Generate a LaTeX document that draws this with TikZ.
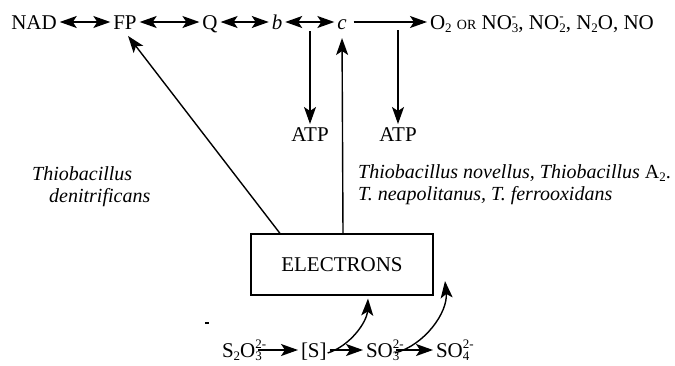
\documentclass[tikz,border=0pt]{standalone}
\usepackage{fontspec}
\setmainfont{Liberation Serif}
\usetikzlibrary{arrows.meta}
\newcommand\chm[2]{{\fontsize{13}{13}\selectfont\setbox0=\hbox{#1}\setbox2=\hbox{#2}%
\ifdim\wd0>\wd2 \dimen0=\wd0 \else\dimen0=\wd2 \fi
\rlap{\raise 8.5pt\box2}\rlap{\lower 3.5pt\box0}\hskip\dimen0}}
\newcommand\sbs[1]{{\fontsize{13}{13}\selectfont\lower 3.5pt\hbox{#1}}}
\begin{document}
\begin{tikzpicture}[x=1pt,y=-1pt,
  lbl/.style={inner sep=0pt, outer sep=3pt, text height=14pt, text depth=0pt, font=\fontsize{21}{24}\selectfont},
  ital/.style={inner sep=0pt, font=\fontsize{20}{24}\selectfont\itshape},
  arr/.style={-{Stealth[length=17pt,width=12pt,inset=4pt]}, line width=1.4pt},
  darr/.style={{Stealth[length=17pt,width=12pt,inset=4pt]}-{Stealth[length=17pt,width=12pt,inset=4pt]}, line width=1.4pt}]
\useasboundingbox (0,0) rectangle (675,365);
% top row
\node[lbl, anchor=base] (nad) at (34,29) {NAD};
\node[lbl, anchor=base] (fp) at (125,29) {FP};
\node[lbl, anchor=base] (q) at (210,29) {Q};
\node[lbl, anchor=base] (b) at (277,29) {\itshape b};
\node[lbl, anchor=base] (c) at (342,29) {\itshape c};
\node[lbl, anchor=base west] (acc) at (427,29) {O\sbs{2} {\fontsize{14}{14}\selectfont OR} NO\chm{3}{-}, NO\chm{2}{-}, N\sbs{2}O, NO};
\draw[darr] (nad) -- (fp);
\draw[darr] (fp) -- (q);
\draw[darr] (q) -- (b);
\draw[darr] (b) -- (c);
\draw[arr] ([xshift=4pt]c.east) -- (acc.west);
% ATP branches
\coordinate (j1) at (310,31);
\coordinate (j2) at (398,30);
\node[lbl, anchor=base] (atp1) at (310,141) {ATP};
\node[lbl, anchor=base] (atp2) at (398,141) {ATP};
\draw[arr] (j1) -- (atp1.north);
\draw[arr] (j2) -- (atp2.north);
% electrons box
\node[draw, line width=1.2pt, minimum width=182pt, minimum height=61pt, inner sep=0pt,
      font=\fontsize{21}{24}\selectfont] (el) at (342,264.5) {ELECTRONS};
\draw[arr, shorten >=6pt] ([xshift=1pt]el.north) -- (c.south);
\draw[arr, shorten >=5pt] ([xshift=-62pt]el.north) -- (fp.south);
% organism labels
\node[ital, anchor=base west] (td1) at (32,180) {Thiobacillus};
\node[ital, anchor=base west] (td2) at (49,202) {denitrificans};
\node[ital, anchor=base west] (tn1) at (358,178) {Thiobacillus novellus, Thiobacillus {\upshape A\sbs{2}.}};
\node[ital, anchor=base west] (tn2) at (358,200) {T. neapolitanus, T. ferrooxidans};
% bottom row
\node[lbl, anchor=base west] (s2o3) at (219,357) {S\sbs{2}O\chm{3}{2-}};
\node[lbl, anchor=base west] (s) at (298,357) {[S]};
\node[lbl, anchor=base west] (so3) at (363,357) {SO\chm{3}{2-}};
\node[lbl, anchor=base west] (so4) at (433,357) {SO\chm{4}{2-}};
\draw[arr] (s2o3) -- (s);
\draw[arr] (s) -- (so3);
\draw[arr] (so3) -- (so4);
\coordinate (t2) at (445,281);
\draw[arr] ([xshift=-2pt,yshift=-3pt]s.east) .. controls (350,346) and (367,322) .. ([xshift=26pt,yshift=-3pt]el.south);
\draw[arr] ([xshift=-1pt,yshift=-3pt]so3.east) .. controls (425,345) and (448,312) .. (t2);
\coordinate (sp1) at (205,323);
\coordinate (sp2) at (209,323);
\draw[line width=1.2pt] (sp1) -- (sp2);
\end{tikzpicture}
\end{document}
